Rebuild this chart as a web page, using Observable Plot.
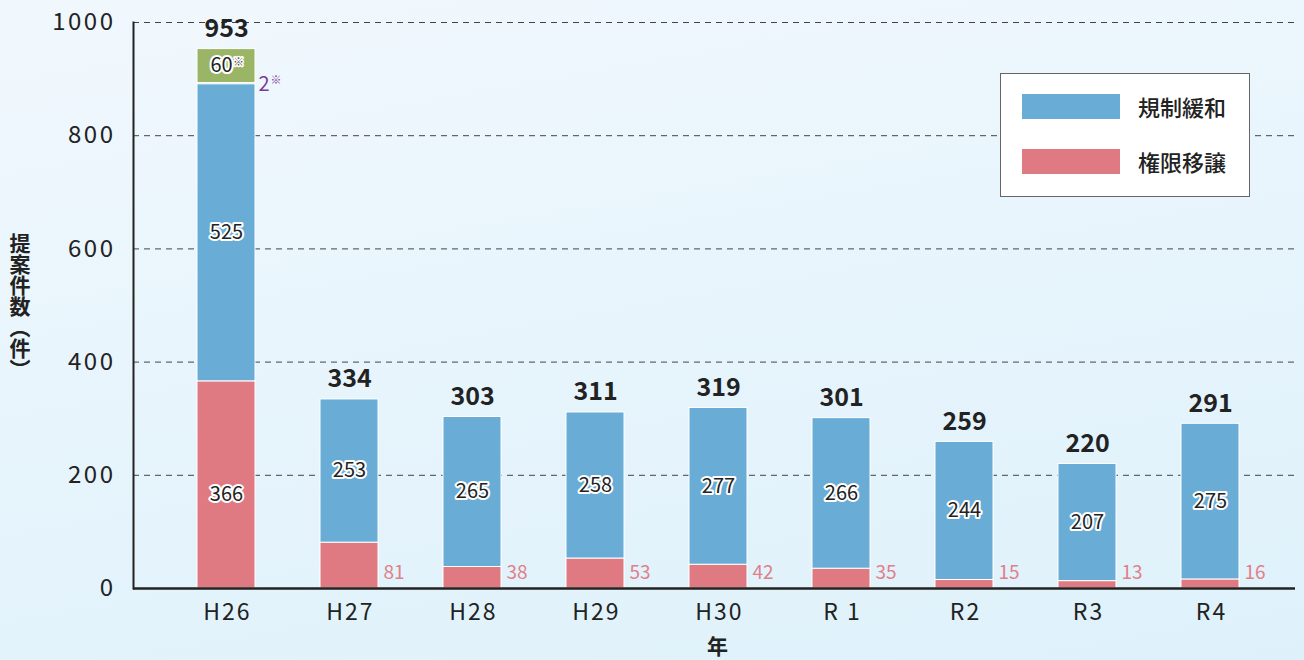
<!DOCTYPE html>
<html>
<head>
<meta charset="utf-8">
<script src="https://cdn.jsdelivr.net/npm/d3@7"></script>
<script src="https://cdn.jsdelivr.net/npm/@observablehq/plot@0.6"></script>
<style>
  html, body { margin: 0; padding: 0; }
  body {
    width: 1304px; height: 660px; overflow: hidden; position: relative;
    background: linear-gradient(170deg, #f1f8fd 0%, #e6f4fc 55%, #def1fa 100%);
    font-family: "Noto Sans CJK JP", "Noto Sans", sans-serif;
  }
  #chart { position: absolute; left: 0; top: 0; }
  #chart g[aria-label="y-axis tick label"] text { letter-spacing: 2.5px; }
  #chart g[aria-label="x-axis tick label"] text { letter-spacing: 2px; }
  #ylabel {
    position: absolute; left: 9px; top: 233px;
    writing-mode: vertical-rl; font-size: 21px; font-weight: 700; color: #222;
    line-height: 1;
  }
  #xlabel {
    position: absolute; left: 707px; top: 632px; font-size: 21px; font-weight: 700; color: #222; line-height: 1.3;
  }
  #legend {
    position: absolute; left: 1000px; top: 73px; width: 248px; height: 122px;
    background: #fff; border: 1px solid #666;
  }
  .lg-row { position: absolute; left: 21px; display: flex; align-items: center; height: 25px; }
  .lg-sw { width: 98px; height: 25px; }
  .lg-tx { margin-left: 18px; font-size: 22px; font-weight: 500; color: #222; line-height: 25px; }
</style>
</head>
<body>
<div id="chart"></div>
<div id="ylabel">提案件数（件）</div>
<div id="xlabel">年</div>
<div id="legend">
  <div class="lg-row" style="top:20px"><div class="lg-sw" style="background:#69acd5"></div><div class="lg-tx">規制緩和</div></div>
  <div class="lg-row" style="top:75px"><div class="lg-sw" style="background:#df7a82"></div><div class="lg-tx">権限移譲</div></div>
</div>
<script>
const years = ["H26", "H27", "H28", "H29", "H30", "R 1", "R2", "R3", "R4"];
const deregulation = [525, 253, 265, 258, 277, 266, 244, 207, 275]; // 規制緩和
const transfer = [366, 81, 38, 53, 42, 35, 15, 13, 16];            // 権限移譲
const totals = [953, 334, 303, 311, 319, 301, 259, 220, 291];
const otherSmall = [2, 0, 0, 0, 0, 0, 0, 0, 0];    // purple ※
const otherLarge = [60, 0, 0, 0, 0, 0, 0, 0, 0];   // green ※
const yTicks = [0, 200, 400, 600, 800, 1000];

const colors = {"権限移譲": "#df7a82", "規制緩和": "#69acd5", "その他2": "#8a3c96", "その他60": "#9bb566"};

const rows = [];
years.forEach((y, i) => {
  rows.push({year: y, cat: "権限移譲", value: transfer[i]});
  rows.push({year: y, cat: "規制緩和", value: deregulation[i]});
  if (otherSmall[i]) rows.push({year: y, cat: "その他2", value: otherSmall[i]});
  if (otherLarge[i]) rows.push({year: y, cat: "その他60", value: otherLarge[i]});
});

const blueLabels = years.map((y, i) => ({year: y, y: transfer[i] + deregulation[i] / 2, text: String(deregulation[i])}));
const redInside = years.map((y, i) => ({year: y, y: transfer[i] / 2, text: String(transfer[i])})).filter((d, i) => i === 0);
const redOutside = years.map((y, i) => ({year: y, text: String(transfer[i])})).filter((d, i) => i > 0);
const totalLabels = years.map((y, i) => ({year: y, y: totals[i], text: String(totals[i])}));
const greenLabels = years.map((y, i) => ({year: y, y: transfer[i] + deregulation[i] + otherSmall[i] + otherLarge[i] / 2, text: String(otherLarge[i])})).filter((d, i) => otherLarge[i]);
const purpleLabels = years.map((y, i) => ({year: y, y: transfer[i] + deregulation[i] + otherSmall[i] / 2, text: String(otherSmall[i])})).filter((d, i) => otherSmall[i]);

const font = "Noto Sans CJK JP";

const chart = Plot.plot({
  width: 1304,
  height: 660,
  marginLeft: 133,
  marginRight: 1,
  marginTop: 22,
  marginBottom: 72,
  style: {background: "transparent", fontFamily: font, color: "#222", overflow: "visible"},
  x: {domain: years, paddingInner: 0.53, paddingOuter: 0.51, axis: null},
  y: {domain: [0, 1000], axis: null},
  marks: [
    Plot.ruleY(yTicks.filter(t => t > 0), {stroke: "#444", strokeWidth: 1, strokeDasharray: "6,5", insetRight: 5}),
    Plot.axisY({ticks: yTicks, tickSize: 0, tickPadding: 18, fontSize: 24, tickFormat: d => String(d), label: null, fill: "#222"}),
    Plot.axisX({tickSize: 0, tickPadding: 15, fontSize: 23, label: null, fill: "#222", dx: 1}),
    Plot.barY(rows, {x: "year", y: "value", fill: d => colors[d.cat], stroke: "white", strokeWidth: 1}),
    Plot.frame({anchor: "left", stroke: "#222", strokeWidth: 2}),
    Plot.ruleY([0], {stroke: "#222", strokeWidth: 2.5, insetRight: 8}),
    Plot.text(blueLabels, {x: "year", y: "y", text: "text", fontSize: 20, fill: "#222", stroke: "white", strokeWidth: 4, paintOrder: "stroke"}),
    Plot.text(redInside, {x: "year", y: "y", text: "text", dy: 10, fontSize: 20, fill: "#222", stroke: "white", strokeWidth: 4, paintOrder: "stroke"}),
    Plot.text(redOutside, {x: "year", y: () => 0, text: "text", textAnchor: "start", dx: 34, dy: -16, fontSize: 19, fill: "#e0808a"}),
    Plot.text(totalLabels, {x: "year", y: "y", text: "text", dy: -20, fontSize: 25, fontWeight: 700, fill: "#222"}),
    Plot.text(greenLabels, {x: "year", y: "y", text: "text", dx: -5, fontSize: 20, fill: "#222", stroke: "white", strokeWidth: 4, paintOrder: "stroke"}),
    Plot.text(greenLabels, {x: "year", y: "y", text: () => "※", dx: 12, dy: -4, fontSize: 11, fill: "#555", stroke: "white", strokeWidth: 3, paintOrder: "stroke"}),
    Plot.text(purpleLabels, {x: "year", y: "y", text: "text", textAnchor: "start", dx: 32, dy: 1, fontSize: 20, fill: "#7a3a9a"}),
    Plot.text(purpleLabels, {x: "year", y: "y", text: () => "※", textAnchor: "start", dx: 44, dy: -3, fontSize: 11, fill: "#7a3a9a"})
  ]
});
document.getElementById("chart").appendChild(chart);
</script>
</body>
</html>
